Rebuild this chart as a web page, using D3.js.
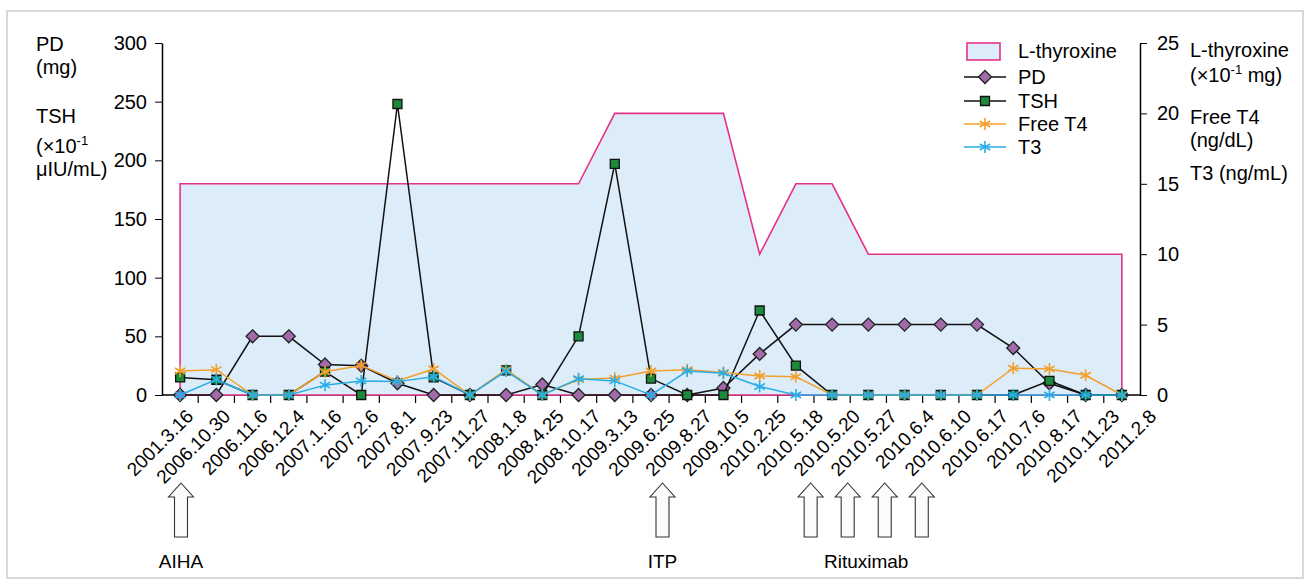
<!DOCTYPE html>
<html>
<head>
<meta charset="utf-8">
<script src="https://cdn.jsdelivr.net/npm/d3@7"></script>
<style>
  body { margin: 0; background: #fff; }
  text { font-family: "Liberation Sans", Arial, sans-serif; fill: #000; }
</style>
</head>
<body>
<svg id="chart"></svg>
<script>
// visit dates on the x axis
const dates = ["2001.3.16", "2006.10.30", "2006.11.6", "2006.12.4", "2007.1.16", "2007.2.6",
  "2007.8.1", "2007.9.23", "2007.11.27", "2008.1.8", "2008.4.25", "2008.10.17", "2009.3.13",
  "2009.6.25", "2009.8.27", "2009.10.5", "2010.2.25", "2010.5.18", "2010.5.20", "2010.5.27",
  "2010.6.4", "2010.6.10", "2010.6.17", "2010.7.6", "2010.8.17", "2010.11.23", "2011.2.8"];

// left axis series
const pd  = [0, 0, 50, 50, 26, 25, 10, 0, 0, 0, 9, 0, 0, 0, 0, 6, 35, 60, 60, 60, 60, 60, 60, 40, 10, 0, 0];
const tsh = [15, 13, 0, 0, 20, 0, 248, 15, 0, 21, 0, 50, 197, 14, 0, 0, 72, 25, 0, 0, 0, 0, 0, 0, 12, 0, 0];

// right axis series
const lthyroxine = [15, 15, 15, 15, 15, 15, 15, 15, 15, 15, 15, 15, 20, 20, 20, 20, 10, 15, 15, 10, 10, 10, 10, 10, 10, 10, 10];
const freeT4 = [1.7, 1.8, 0, 0, 1.65, 2.1, 1.0, 1.85, 0, 1.8, 0, 1.1, 1.2, 1.7, 1.8, 1.6, 1.35, 1.3, 0, 0, 0, 0, 0, 1.9, 1.85, 1.4, 0];
const t3 = [0, 1.1, 0, 0, 0.7, 1.0, 0.95, 1.3, 0, 1.7, 0, 1.15, 1.0, 0, 1.7, 1.55, 0.6, 0, 0, 0, 0, 0, 0, 0, 0, 0, 0];

const leftTicks = [0, 50, 100, 150, 200, 250, 300];
const rightTicks = [0, 5, 10, 15, 20, 25];

// treatment arrows under the axis
const aihaDates = ["2001.3.16"];
const itpDates = ["2009.6.25"];
const rituximabDates = ["2010.5.18", "2010.5.20", "2010.5.27", "2010.6.4"];

const width = 1310, height = 585;
const margin = {top: 43, right: 170, bottom: 190, left: 162};
const plotBottom = height - margin.bottom; // 395
const plotRight = width - margin.right;    // 1140

const svg = d3.select("#chart").attr("width", width).attr("height", height);

// outer frame
svg.append("rect")
  .attr("x", 7).attr("y", 11).attr("width", 1296).attr("height", 567)
  .attr("fill", "none").attr("stroke", "#d8d8d8").attr("stroke-width", 2);

const x = d3.scaleBand().domain(dates).range([margin.left, plotRight]);
const cx = d => x(d) + x.bandwidth() / 2;
const xLabel = d3.scalePoint().domain(dates).range([185, 1148]);

const yL = d3.scaleLinear().domain([0, 300]).range([plotBottom, margin.top]);
const yR = d3.scaleLinear().domain([0, 25]).range([plotBottom, margin.top]);

// x axis line and ticks at band edges
const xAxis = svg.append("g");
xAxis.append("line")
  .attr("x1", margin.left).attr("x2", plotRight)
  .attr("y1", plotBottom).attr("y2", plotBottom)
  .attr("stroke", "#000").attr("stroke-width", 1.5);
xAxis.selectAll(".tick")
  .data(dates.slice(1)).enter().append("line")
  .attr("x1", d => x(d)).attr("x2", d => x(d))
  .attr("y1", plotBottom).attr("y2", plotBottom + 8)
  .attr("stroke", "#000").attr("stroke-width", 1.2);
xAxis.selectAll("text")
  .data(dates).enter().append("text")
  .attr("transform", d => `translate(${xLabel(d)},${plotBottom + 13}) rotate(-45)`)
  .attr("text-anchor", "end")
  .attr("dy", "0.71em")
  .style("font-size", "19px")
  .text(d => d);

// L-thyroxine area
svg.append("path")
  .datum(dates.map((d, i) => [d, lthyroxine[i]]))
  .attr("fill", "#dcecf8")
  .attr("stroke", "#e6338a")
  .attr("stroke-width", 1.6)
  .attr("d", d3.area().x(d => cx(d[0])).y0(yR(0)).y1(d => yR(d[1])));

// y axes
svg.append("g")
  .attr("transform", `translate(${margin.left},0)`)
  .call(d3.axisLeft(yL).tickValues(leftTicks).tickSize(7).tickPadding(8).tickSizeOuter(0))
  .call(g => g.selectAll("text").style("font-size", "20px"))
  .call(g => g.select(".domain").attr("stroke-width", 1.5));

svg.append("g")
  .attr("transform", `translate(${plotRight},0)`)
  .call(d3.axisRight(yR).tickValues(rightTicks).tickSize(7).tickPadding(10).tickSizeOuter(0))
  .call(g => g.selectAll("text").style("font-size", "20px"))
  .call(g => g.select(".domain").attr("stroke-width", 1.5));

// series drawing helpers
const diamond = "M0,-6.5L6.5,0L0,6.5L-6.5,0Z";
const square = "M-4.5,-4.5H4.5V4.5H-4.5Z";
const asterisk = "M0,-6V6M-5.2,-3L5.2,3M-5.2,3L5.2,-3";

function drawSeries(values, yScale, lineColor, marker, markerFill, markerStroke) {
  const pts = dates.map((d, i) => [cx(d), yScale(values[i])]);
  svg.append("path")
    .attr("d", d3.line()(pts))
    .attr("fill", "none").attr("stroke", lineColor).attr("stroke-width", 1.5);
  svg.append("g").selectAll("path")
    .data(pts).enter().append("path")
    .attr("transform", p => `translate(${p[0]},${p[1]})`)
    .attr("d", marker)
    .attr("fill", markerFill)
    .attr("stroke", markerStroke)
    .attr("stroke-width", marker === asterisk ? 1.6 : 1.3);
}

drawSeries(pd, yL, "#111", diamond, "#a16aa8", "#222");
drawSeries(tsh, yL, "#111", square, "#1b8a3a", "#111");
drawSeries(freeT4, yR, "#f2a02c", asterisk, "none", "#f2a02c");
drawSeries(t3, yR, "#29ade6", asterisk, "none", "#29ade6");

// legend
const legend = svg.append("g");
legend.append("rect")
  .attr("x", 967).attr("y", 43).attr("width", 33).attr("height", 17)
  .attr("fill", "#dcecf8").attr("stroke", "#e6338a").attr("stroke-width", 1.6);
legend.append("text").attr("x", 1018).attr("y", 58).style("font-size", "20px").text("L-thyroxine");

const legendItems = [
  {name: "PD", color: "#111", marker: diamond, fill: "#a16aa8", stroke: "#222", y: 77},
  {name: "TSH", color: "#111", marker: square, fill: "#1b8a3a", stroke: "#111", y: 101},
  {name: "Free T4", color: "#f2a02c", marker: asterisk, fill: "none", stroke: "#f2a02c", y: 124},
  {name: "T3", color: "#29ade6", marker: asterisk, fill: "none", stroke: "#29ade6", y: 147}
];
legendItems.forEach(it => {
  legend.append("line")
    .attr("x1", 964).attr("x2", 1006).attr("y1", it.y).attr("y2", it.y)
    .attr("stroke", it.color).attr("stroke-width", 1.5);
  legend.append("path")
    .attr("transform", `translate(985,${it.y})`)
    .attr("d", it.marker).attr("fill", it.fill).attr("stroke", it.stroke)
    .attr("stroke-width", it.marker === asterisk ? 1.6 : 1.3);
  legend.append("text").attr("x", 1018).attr("y", it.y + 7).style("font-size", "20px").text(it.name);
});

// axis titles
function tenMinus1(sel, suffix) {
  sel.append("tspan").text("(\u00d7" + "10");
  sel.append("tspan").attr("dy", -8).style("font-size", "13px").text("-1");
  sel.append("tspan").attr("dy", 8).text(suffix);
}
const leftTitle = svg.append("g").style("font-size", "20px");
leftTitle.append("text").attr("x", 36).attr("y", 51).text("PD");
leftTitle.append("text").attr("x", 36).attr("y", 74).text("(mg)");
leftTitle.append("text").attr("x", 36).attr("y", 123).text("TSH");
leftTitle.append("text").attr("x", 36).attr("y", 153).call(tenMinus1, "");
leftTitle.append("text").attr("x", 36).attr("y", 176).text("\u03bcIU/mL)");

const rightTitle = svg.append("g").style("font-size", "20px");
rightTitle.append("text").attr("x", 1190).attr("y", 57).text("L-thyroxine");
rightTitle.append("text").attr("x", 1190).attr("y", 82).call(tenMinus1, " mg)");
rightTitle.append("text").attr("x", 1190).attr("y", 124).text("Free T4");
rightTitle.append("text").attr("x", 1190).attr("y", 147).text("(ng/dL)");
rightTitle.append("text").attr("x", 1190).attr("y", 180).text("T3 (ng/mL)");

// treatment arrows
const arrowPath = "M0,0L12.5,14H6.5V54H-6.5V14H-12.5Z";
const ax = d => xLabel(d) - 4;
function drawArrows(list, label) {
  list.forEach(d => {
    svg.append("path")
      .attr("transform", `translate(${ax(d)},483)`)
      .attr("d", arrowPath)
      .attr("fill", "#fbfbfb").attr("stroke", "#333").attr("stroke-width", 1.1);
  });
  const mid = (ax(list[0]) + ax(list[list.length - 1])) / 2;
  svg.append("text").attr("x", mid).attr("y", 568)
    .attr("text-anchor", "middle").style("font-size", "19px").text(label);
}
drawArrows(aihaDates, "AIHA");
drawArrows(itpDates, "ITP");
drawArrows(rituximabDates, "Rituximab");
</script>
</body>
</html>
